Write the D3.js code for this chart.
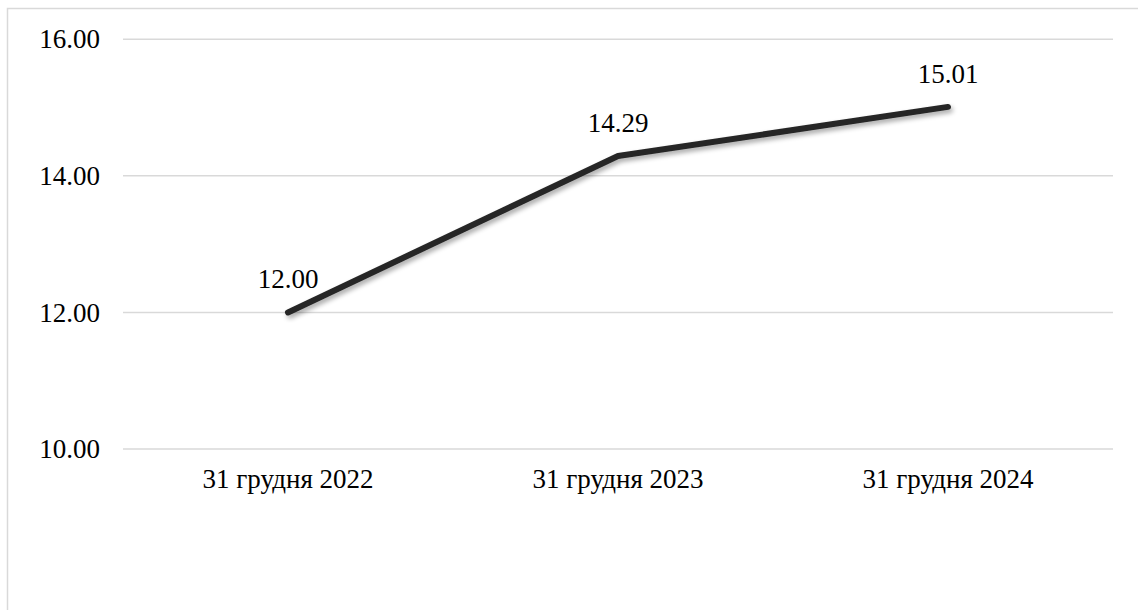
<!DOCTYPE html>
<html>
<head>
<meta charset="utf-8">
<script src="https://cdn.jsdelivr.net/npm/d3@7"></script>
<style>
  svg text { font-family: "Liberation Serif", serif; }
</style>
</head>
<body style="margin:0;background:#fff">
<svg id="chart" width="1138" height="610"></svg>
<script>
// Series data
const categories = ["31 грудня 2022", "31 грудня 2023", "31 грудня 2024"];
const values = [12.00, 14.29, 15.01];
const yTicks = [10, 12, 14, 16];

const W = 1138, H = 610;
const plot = { left: 123, right: 1113, top: 39.3, bottom: 449 };
const FONT = "Liberation Serif";
const FS = 27;

const svg = d3.select("#chart");

// Apply the label font straight onto each text node
const serif = sel => sel
  .attr("font-family", FONT)
  .attr("font-size", FS)
  .style("font-family", FONT)
  .attr("fill", "#000");

// Chart frame (open on the right and bottom edges of the canvas)
svg.append("rect")
  .attr("x", 7.5).attr("y", 8.5)
  .attr("width", W + 10).attr("height", H + 10)
  .attr("fill", "#fff")
  .attr("stroke", "#d9d9d9")
  .attr("stroke-width", 1.5);

const x = d3.scaleBand()
  .domain(categories)
  .range([plot.left, plot.right]);

const y = d3.scaleLinear()
  .domain([10, 16])
  .range([plot.bottom, plot.top]);

// Horizontal gridlines
svg.append("g")
  .selectAll("line")
  .data(yTicks)
  .join("line")
  .attr("x1", plot.left).attr("x2", plot.right)
  .attr("y1", d => y(d)).attr("y2", d => y(d))
  .attr("stroke", "#d9d9d9")
  .attr("stroke-width", 1.5);

// Y axis labels
const gy = svg.append("g")
  .attr("transform", `translate(${plot.left},0)`)
  .call(d3.axisLeft(y)
    .tickValues(yTicks)
    .tickFormat(d3.format(".2f"))
    .tickSize(0)
    .tickPadding(23));
gy.attr("font-family", FONT).attr("font-size", FS);
gy.select(".domain").remove();
gy.selectAll("text").call(serif);

// X axis labels
const gx = svg.append("g")
  .attr("transform", `translate(0,${plot.bottom})`)
  .call(d3.axisBottom(x).tickSize(0).tickPadding(20));
gx.attr("font-family", FONT).attr("font-size", FS);
gx.select(".domain").remove();
gx.selectAll("text").call(serif);

// Soft drop shadow for the line
const f = svg.append("defs").append("filter").attr("id", "shadow")
  .attr("x", "-10%").attr("y", "-20%").attr("width", "120%").attr("height", "140%");
f.append("feGaussianBlur").attr("in", "SourceAlpha").attr("stdDeviation", 2.5).attr("result", "blur");
f.append("feOffset").attr("in", "blur").attr("dx", 2).attr("dy", 3).attr("result", "off");
f.append("feComponentTransfer").attr("in", "off").attr("result", "soft")
  .append("feFuncA").attr("type", "linear").attr("slope", 0.35);
const merge = f.append("feMerge");
merge.append("feMergeNode").attr("in", "soft");
merge.append("feMergeNode").attr("in", "SourceGraphic");

const pts = categories.map((c, i) => ({ c, v: values[i] }));
const line = d3.line()
  .x(d => x(d.c) + x.bandwidth() / 2)
  .y(d => y(d.v));

svg.append("path")
  .datum(pts)
  .attr("d", line)
  .attr("fill", "none")
  .attr("stroke", "#262626")
  .attr("stroke-width", 6)
  .attr("stroke-linecap", "round")
  .attr("stroke-linejoin", "round")
  .attr("filter", "url(#shadow)");

// Value labels
svg.append("g")
  .selectAll("text")
  .data(pts)
  .join("text")
  .attr("x", d => x(d.c) + x.bandwidth() / 2)
  .attr("y", d => y(d.v) - 24)
  .attr("text-anchor", "middle")
  .call(serif)
  .text(d => d3.format(".2f")(d.v));
</script>
</body>
</html>
